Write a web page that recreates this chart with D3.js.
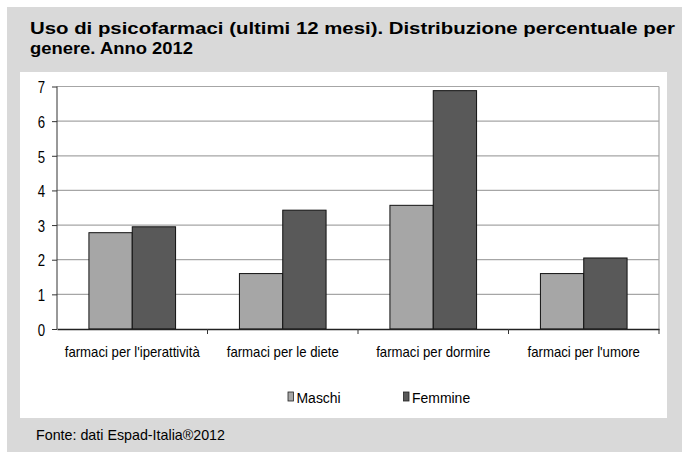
<!DOCTYPE html>
<html>
<head>
<meta charset="utf-8">
<script src="https://cdn.jsdelivr.net/npm/d3@7"></script>
<style>
  body { margin: 0; background: #fff; }
  svg { display: block; }
  text { font-family: 'Liberation Sans', Arial, sans-serif; }
</style>
</head>
<body>
<div id="chart"></div>
<script>
// data
const categories = ["farmaci per l'iperattività", "farmaci per le diete", "farmaci per dormire", "farmaci per l'umore"];
const seriesNames = ["Maschi", "Femmine"];
const maschi = [2.78, 1.6, 3.57, 1.6];
const femmine = [2.95, 3.43, 6.88, 2.05];
const yTicks = [0, 1, 2, 3, 4, 5, 6, 7];
const titleLines = ["Uso di psicofarmaci (ultimi 12 mesi). Distribuzione percentuale per", "genere. Anno 2012"];
const sourceText = "Fonte: dati Espad-Italia®2012";

const W = 682, H = 452;
const colors = { Maschi: "#a6a6a6", Femmine: "#595959" };
const margin = { top: 86.5, left: 57, right: 23, bottom: 123 };
const width = W - margin.left - margin.right;
const height = H - margin.top - margin.bottom;

// squeeze text horizontally (the original uses a narrow face)
function condense(sel, k) {
  sel.each(function() {
    const len = this.getComputedTextLength();
    d3.select(this).attr("textLength", len * k).attr("lengthAdjust", "spacingAndGlyphs");
  });
}

const svg = d3.select("#chart").append("svg")
  .attr("width", W)
  .attr("height", H);

// grey panel + white chart box
svg.append("rect").attr("x", 7).attr("y", 7).attr("width", W - 7).attr("height", H - 7).attr("fill", "#d9d9d9");
svg.append("rect").attr("x", 20).attr("y", 72).attr("width", 647).attr("height", 346).attr("fill", "#fff");

// title
const title = svg.append("g").selectAll("text")
  .data(titleLines)
  .join("text")
  .attr("x", 30)
  .attr("y", (d, i) => 34 + i * 20)
  .attr("font-weight", "bold")
  .attr("font-size", 16)
  .attr("fill", "#000")
  .text(d => d);
const t2 = title.filter((d, i) => i === 1).node();
const titleK = 163 / t2.getComputedTextLength();
condense(title.filter((d, i) => i === 1), titleK);
title.filter((d, i) => i === 0).attr("textLength", 645).attr("lengthAdjust", "spacingAndGlyphs");

const chart = svg.append("g")
  .attr("transform", "translate(" + margin.left + "," + margin.top + ")");

const xScale = d3.scaleBand().domain(categories).range([0, width]);
const xInner = d3.scaleBand().domain(seriesNames).range([0, xScale.bandwidth()]).paddingOuter(0.737).paddingInner(0);
const yScale = d3.scaleLinear().domain([0, 7]).range([height, 0]);

// gridlines
chart.append("g").selectAll("line")
  .data(yTicks.filter(d => d > 0))
  .join("line")
  .attr("x1", 0).attr("x2", width)
  .attr("y1", d => yScale(d)).attr("y2", d => yScale(d))
  .attr("stroke", "#a6a6a6")
  .attr("stroke-width", 1.2);

// right frame
chart.append("line")
  .attr("x1", width).attr("x2", width)
  .attr("y1", 0).attr("y2", height)
  .attr("stroke", "#a6a6a6")
  .attr("stroke-width", 1.2);

// bars
const rows = categories.map((c, i) => ({ cat: c, values: [{ s: "Maschi", v: maschi[i] }, { s: "Femmine", v: femmine[i] }] }));
chart.append("g").selectAll("g")
  .data(rows)
  .join("g")
  .attr("transform", d => "translate(" + xScale(d.cat) + ",0)")
  .selectAll("rect")
  .data(d => d.values)
  .join("rect")
  .attr("x", d => xInner(d.s))
  .attr("y", d => yScale(d.v))
  .attr("width", xInner.bandwidth())
  .attr("height", d => height - yScale(d.v))
  .attr("fill", d => colors[d.s])
  .attr("stroke", "#111")
  .attr("stroke-width", 1);

// y axis
const yAxis = d3.axisLeft(yScale).tickValues(yTicks).tickSize(5).tickPadding(7).tickFormat(d3.format("d"));
const gy = chart.append("g").call(yAxis);
gy.select(".domain").attr("stroke", "#333").attr("d", "M0," + yScale(7) + "V" + yScale(0));
gy.selectAll(".tick line").attr("stroke", "#333");
gy.selectAll("text")
  .attr("font-family", "'Liberation Sans', Arial, sans-serif")
  .attr("font-size", 16.5).attr("fill", "#000").attr("dy", "0.38em");
condense(gy.selectAll("text"), 0.8);

// x axis
const xAxis = d3.axisBottom(xScale).tickSize(0).tickPadding(0);
const gx = chart.append("g")
  .attr("transform", "translate(0," + height + ")")
  .call(xAxis);
gx.select(".domain").attr("stroke", "#222").attr("stroke-width", 1.6);
gx.selectAll("text")
  .attr("font-family", "'Liberation Sans', Arial, sans-serif")
  .attr("font-size", 15).attr("fill", "#000").attr("y", 28).attr("dy", 0);
const lab0 = gx.select(".tick text").node().getComputedTextLength();
condense(gx.selectAll("text"), 135 / lab0);
gx.append("g").selectAll("line")
  .data(categories)
  .join("line")
  .attr("x1", d => xScale(d) + xScale.bandwidth())
  .attr("x2", d => xScale(d) + xScale.bandwidth())
  .attr("y1", 0).attr("y2", 5)
  .attr("stroke", "#333");

// legend
const legendX = d3.scalePoint().domain(seriesNames).range([288, 403.5]);
const legend = svg.append("g").selectAll("g")
  .data(seriesNames)
  .join("g")
  .attr("transform", d => "translate(" + legendX(d) + ",392)");
legend.append("rect")
  .attr("width", 5.5).attr("height", 9)
  .attr("fill", d => colors[d])
  .attr("stroke", "#222")
  .attr("stroke-width", 0.8);
const legText = legend.append("text")
  .attr("x", 8.5).attr("y", 11.3)
  .attr("font-size", 15.5)
  .attr("fill", "#000")
  .text(d => d);
condense(legText, 0.9);

// source
svg.append("text")
  .attr("x", 36).attr("y", 440)
  .attr("font-size", 14.5)
  .attr("fill", "#000")
  .text(sourceText)
  .attr("textLength", 189)
  .attr("lengthAdjust", "spacingAndGlyphs");
</script>
</body>
</html>
